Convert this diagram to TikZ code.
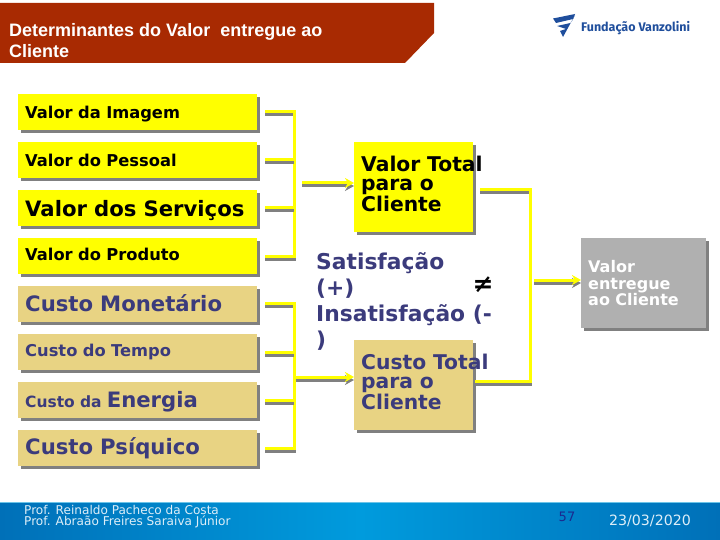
\documentclass[tikz,border=0pt]{standalone}
\usepackage{fontspec}
\setmainfont{DejaVu Sans}
\newfontfamily\arialfont{Liberation Sans}
\newfontfamily\logofont{Fira Sans}
\usetikzlibrary{arrows.meta,positioning,calc,shadows}
\definecolor{brick}{HTML}{A82A02}
\definecolor{navy}{HTML}{3B3B7C}
\definecolor{sand}{HTML}{E8D383}
\definecolor{shade}{HTML}{808080}
\definecolor{ashgray}{HTML}{B0B0B0}
\definecolor{logoblue}{HTML}{1F4E9C}
\definecolor{vyellow}{HTML}{FFFF00}
\definecolor{footdark}{HTML}{0070B8}
\definecolor{footlight}{HTML}{009BDD}
\definecolor{footline}{HTML}{6CC4E8}
\definecolor{foottext}{HTML}{DDEEF8}
\definecolor{pagenum}{HTML}{1A2A90}
\newcommand{\fpx}[1]{\fontsize{#1}{#1}\selectfont}
\tikzset{
  boxbase/.style={anchor=north west,inner xsep=7pt,inner ysep=0pt,align=left,
    general shadow={fill=shade,shadow xshift=3pt,shadow yshift=-3pt}},
  vnode/.style={boxbase,fill=vyellow,text=black,minimum width=239pt,minimum height=36pt,
    text width=225pt,text depth=0pt},
  cnode/.style={vnode,fill=sand,text=navy},
  vtotal/.style={boxbase,fill=vyellow,text=black,minimum width=119pt,minimum height=90pt,text width=105pt},
  ctotal/.style={vtotal,fill=sand,text=navy},
  wnode/.style={boxbase,fill=ashgray,text=white,minimum width=125pt,minimum height=90pt,text width=111pt},
  yedge/.style={line width=3pt,color=vyellow,
    preaction={draw=shade,line width=3pt,transform canvas={shift={(0pt,-3pt)}}}},
  aedge/.style={yedge,-{Stealth[length=9pt,width=10pt]}},
}
\begin{document}
\begin{tikzpicture}[x=1pt,y=-1pt]
  \useasboundingbox (0,0) rectangle (720,540);
  % header and footer
  \fill[brick] (0,3)--(434,3)--(434,33)--(405,63)--(0,63)--cycle;
  \node[anchor=north west,inner sep=0pt,align=left,text=white,font=\arialfont\bfseries\fontsize{18}{21}\selectfont] (title) at (9,23)
    {Determinantes do Valor\ \ entregue ao\\Cliente};
  \fill[left color=footdark,right color=footdark,middle color=footlight] (0,502) rectangle (720,540);
  \draw[footline,line width=1pt] (0,502)--(720,502);
  % logo
  \fill[logoblue] (553,18.5)--(575,14)--(573,19)--(556,23)--cycle;
  \fill[logoblue] (557,26)--(570.5,23)--(572.5,20)--(575,15)--(563,37)--(560,31)--(566,29)--cycle;
  \node[anchor=west,inner sep=0pt,text=logoblue,font=\logofont\bfseries\fpx{12.5}] (logo) at (581,28) {Fundação Vanzolini};
  % left column
  \node[vnode,font=\bfseries\fpx{16.3}] (imagem) at (18,94) {Valor da Imagem};
  \node[vnode,font=\bfseries\fpx{16.3}] (pessoal) at (18,142) {Valor do Pessoal};
  \node[vnode,font=\bfseries\fpx{21.2}] (servicos) at (18,190) {Valor dos Serviços};
  \node[vnode,text depth=3pt,font=\bfseries\fpx{16.3}] (produto) at (18,238) {Valor do Produto};
  \node[cnode,text depth=3pt,font=\bfseries\fpx{21.2}] (monetario) at (18,286) {Custo Monetário};
  \node[cnode,text depth=3pt,font=\bfseries\fpx{16.3}] (tempo) at (18,334) {Custo do Tempo};
  \node[cnode,text depth=2pt,font=\bfseries\fpx{15.5}] (energia) at (18,382) {Custo da {\fpx{21.2}Energia}};
  \node[cnode,text depth=5pt,font=\bfseries\fpx{21.2}] (psiquico) at (18,430) {Custo Psíquico};
  % middle and right boxes
  \node[vtotal,font=\bfseries\fontsize{20.3}{19.5}\selectfont] (vtbox) at (354,142) {\rlap{Valor Total}\\para o\\Cliente\rule[-7pt]{0pt}{7pt}};
  \node[ctotal,font=\bfseries\fontsize{20.3}{19.5}\selectfont] (ctbox) at (354,340) {\rlap{Custo Total}\\para o\\Cliente\rule[-7pt]{0pt}{7pt}};
  \node[wnode,font=\bfseries\fontsize{16}{16.5}\selectfont] (wbox) at (581,238) {Valor\\entregue\\ao Cliente};
  \node[anchor=north west,inner sep=0pt,align=left,text=navy,font=\bfseries\fontsize{21.8}{26}\selectfont] (sat) at (316,252.5)
    {Satisfação\\(+)\\Insatisfação (-\\)};
  \node[inner sep=0pt,font=\bfseries\fpx{25}] (neq) at (483,285) {≠};
  % left brackets
  \coordinate (vtop) at (294,112); \coordinate (vbot) at (294,256);
  \coordinate (ctop) at (294,303); \coordinate (cbot) at (294,448);
  \draw[yedge] (265,112)--(vtop)--(vbot)--(265,256);
  \draw[yedge] (265,160)--(294,160);
  \draw[yedge] (265,208)--(294,208);
  \draw[aedge] (302,183)--(vtbox.west |- 0,183);
  \draw[yedge] (265,303)--(ctop)--(cbot)--(265,448);
  \draw[yedge] (265,352)--(294,352);
  \draw[yedge] (265,400)--(294,400);
  \draw[aedge] (296,377)--(ctbox.west |- 0,377);
  % right bracket
  \coordinate (rtop) at (530,190); \coordinate (rbot) at (530,381);
  \draw[yedge] (480,190)--(rtop)--(rbot)--(475,381);
  \draw[aedge] (534,280)--(wbox.west |- 0,280);
  % footer text
  \node[anchor=north west,inner sep=0pt,align=left,text=foottext,font=\fontsize{12.1}{11}\selectfont] (prof) at (24,505)
    {Prof. Reinaldo Pacheco da Costa\\Prof. Abraão Freires Saraiva Júnior};
  \node[inner sep=0pt,text=pagenum,font=\fpx{13}] (page) at (567,517) {57};
  \node[inner sep=0pt,text=foottext,font=\fpx{14.2}] (date) at (650,521) {23/03/2020};
\end{tikzpicture}
\end{document}
